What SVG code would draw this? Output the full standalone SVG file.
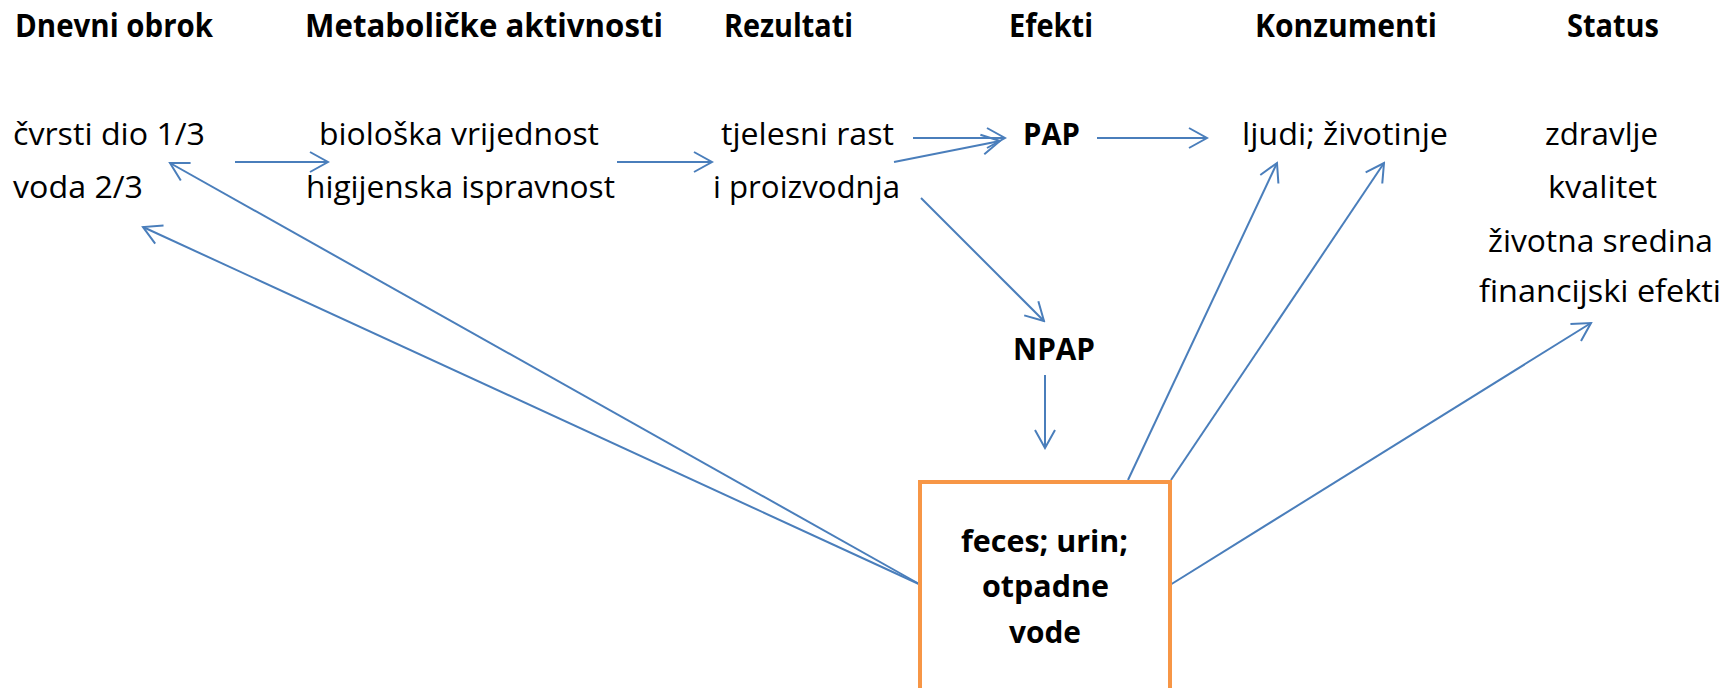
<svg xmlns="http://www.w3.org/2000/svg" width="1725" height="688" viewBox="0 0 1725 688">
  <style>
    .hd { font-family: "Open Sans", "Liberation Sans", sans-serif; font-weight: bold; font-size: 32px; fill: #000; }
    .tx { font-family: "Open Sans", "Liberation Sans", sans-serif; font-size: 31px; fill: #000; }
    .bd { font-family: "Open Sans", "Liberation Sans", sans-serif; font-weight: bold; font-size: 31px; fill: #000; }
    .ln { stroke: #4A7EBB; stroke-width: 2; fill: none; marker-end: url(#arrow); }
    .box { fill: #FFFFFF; stroke: #F79646; stroke-width: 4; }
  </style>
  <defs>
    <marker id="arrow" markerUnits="userSpaceOnUse" viewBox="-22 -12 24 24" markerWidth="24" markerHeight="24" refX="0" refY="0" orient="auto">
      <path d="M-18,-10 L0,0 L-18,10" fill="none" stroke="#4A7EBB" stroke-width="2"/>
    </marker>
  </defs>
  <rect width="1725" height="688" fill="#FFFFFF"/>

  <!-- column headings -->
  <g id="headers">
    <text class="hd" x="15" y="37" textLength="198" lengthAdjust="spacingAndGlyphs">Dnevni obrok</text>
    <text class="hd" x="305" y="37" textLength="358" lengthAdjust="spacingAndGlyphs">Metaboličke aktivnosti</text>
    <text class="hd" x="724" y="37" textLength="129" lengthAdjust="spacingAndGlyphs">Rezultati</text>
    <text class="hd" x="1009" y="37" textLength="84" lengthAdjust="spacingAndGlyphs">Efekti</text>
    <text class="hd" x="1255" y="37" textLength="182" lengthAdjust="spacingAndGlyphs">Konzumenti</text>
    <text class="hd" x="1567" y="37" textLength="92" lengthAdjust="spacingAndGlyphs">Status</text>
  </g>

  <!-- connectors -->
  <g id="connectors">
    <line class="ln" x1="235" y1="162" x2="328" y2="162"/>
    <line class="ln" x1="617" y1="162" x2="712" y2="162"/>
    <line class="ln" x1="913" y1="138" x2="1005" y2="138"/>
    <line class="ln" x1="894" y1="162" x2="1000" y2="141"/>
    <line class="ln" x1="1097" y1="138" x2="1207" y2="138"/>
    <line class="ln" x1="921" y1="198" x2="1044" y2="321"/>
    <line class="ln" x1="1045" y1="375" x2="1045" y2="448"/>
    <line class="ln" x1="1128" y1="480" x2="1277" y2="163"/>
    <line class="ln" x1="1171" y1="480" x2="1384" y2="163"/>
    <line class="ln" x1="1170" y1="585" x2="1591" y2="323"/>
    <line class="ln" x1="921" y1="585" x2="170" y2="163"/>
    <line class="ln" x1="921" y1="585" x2="143" y2="227"/>
  </g>

  <g id="dnevni-obrok">
    <text class="tx" x="13" y="145" textLength="192" lengthAdjust="spacingAndGlyphs">čvrsti dio 1/3</text>
    <text class="tx" x="13" y="198" textLength="130" lengthAdjust="spacingAndGlyphs">voda 2/3</text>
  </g>

  <g id="metabolicke-aktivnosti">
    <text class="tx" x="319" y="145" textLength="280" lengthAdjust="spacingAndGlyphs">biološka vrijednost</text>
    <text class="tx" x="306" y="198" textLength="309" lengthAdjust="spacingAndGlyphs">higijenska ispravnost</text>
  </g>

  <g id="rezultati">
    <text class="tx" x="721" y="145" textLength="173" lengthAdjust="spacingAndGlyphs">tjelesni rast</text>
    <text class="tx" x="713" y="198" textLength="187" lengthAdjust="spacingAndGlyphs">i proizvodnja</text>
  </g>

  <g id="pap">
    <text class="bd" x="1023" y="145" textLength="57" lengthAdjust="spacingAndGlyphs">PAP</text>
  </g>

  <g id="npap">
    <text class="bd" x="1013" y="360" textLength="82" lengthAdjust="spacingAndGlyphs">NPAP</text>
  </g>

  <g id="konzumenti">
    <text class="tx" x="1242" y="145" textLength="206" lengthAdjust="spacingAndGlyphs">ljudi; životinje</text>
  </g>

  <g id="status">
    <text class="tx" x="1545" y="145" textLength="113" lengthAdjust="spacingAndGlyphs">zdravlje</text>
    <text class="tx" x="1548" y="198" textLength="109" lengthAdjust="spacingAndGlyphs">kvalitet</text>
    <text class="tx" x="1488" y="252" textLength="225" lengthAdjust="spacingAndGlyphs">životna sredina</text>
    <text class="tx" x="1479" y="302" textLength="242" lengthAdjust="spacingAndGlyphs">financijski efekti</text>
  </g>

  <g id="otpad">
    <rect class="box" x="920" y="482" width="250" height="230"/>
    <text class="bd" x="961" y="552" textLength="167" lengthAdjust="spacingAndGlyphs">feces; urin;</text>
    <text class="bd" x="982" y="597" textLength="127" lengthAdjust="spacingAndGlyphs">otpadne</text>
    <text class="bd" x="1009" y="643" textLength="72" lengthAdjust="spacingAndGlyphs">vode</text>
  </g>
</svg>
